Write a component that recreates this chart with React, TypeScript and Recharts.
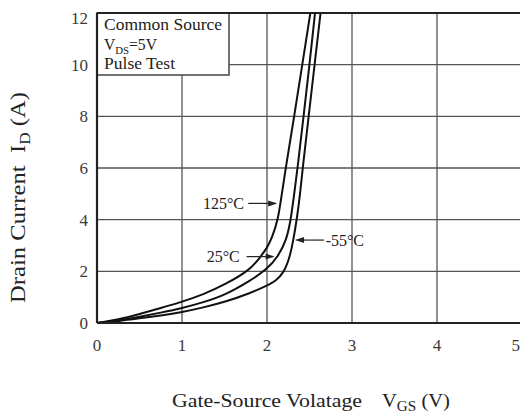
import React from "react";
import {
  LineChart,
  Line,
  XAxis,
  YAxis,
  CartesianGrid,
  ReferenceArea,
  ReferenceLine,
  ReferenceDot,
} from "recharts";

const X_TICKS = [0, 1, 2, 3, 4, 5];
const Y_TICKS = [0, 2, 4, 6, 8, 10, 12];

const VGS_125 = [0, 0.25, 0.5, 0.75, 1, 1.25, 1.5, 1.8, 1.92, 2.0, 2.06, 2.13, 2.17, 2.22, 2.32, 2.415, 2.51];
const ID_125 = [0, 0.13, 0.35, 0.58, 0.82, 1.1, 1.48, 2.05, 2.55, 2.9, 3.3, 4.0, 4.9, 6.0, 8.0, 10, 12];

const VGS_25 = [0, 0.25, 0.5, 0.75, 1, 1.25, 1.5, 1.8, 2.0, 2.13, 2.23, 2.28, 2.32, 2.36, 2.43, 2.5, 2.565];
const ID_25 = [0, 0.09, 0.24, 0.4, 0.57, 0.8, 1.07, 1.63, 2.08, 2.57, 3.21, 4.0, 5.0, 6.0, 8.0, 10, 12];

const VGS_M55 = [0, 0.25, 0.5, 0.75, 1, 1.25, 1.5, 1.8, 2.0, 2.1, 2.2, 2.27, 2.31, 2.35, 2.39, 2.42, 2.49, 2.56, 2.63];
const ID_M55 = [0, 0.07, 0.18, 0.29, 0.42, 0.6, 0.81, 1.15, 1.45, 1.62, 1.95, 2.57, 3.21, 4.0, 5.0, 6.0, 8.0, 10, 12];

const LEGEND_LINES = ["Common Source", "V_DS=5V", "Pulse Test"];

const toData = (xs: number[], ys: number[]) => xs.map((v, k) => ({ v, i: ys[k] }));
const d125 = toData(VGS_125, ID_125);
const d25 = toData(VGS_25, ID_25);
const dM55 = toData(VGS_M55, ID_M55);

const FONT = "'Liberation Serif', 'Times New Roman', serif";
const INK = "#222";

const arrowRight = (p: any) => (
  <polygon
    points={`${p.cx},${p.cy} ${p.cx - 9},${p.cy - 3} ${p.cx - 9},${p.cy + 3}`}
    fill={INK}
  />
);
const arrowLeft = (p: any) => (
  <polygon
    points={`${p.cx},${p.cy} ${p.cx + 9},${p.cy - 3} ${p.cx + 9},${p.cy + 3}`}
    fill={INK}
  />
);

const tempLabel = (txt: string, anchor: "start" | "end") => (p: any) => (
  <text
    x={p.cx}
    y={p.cy}
    dy="0.35em"
    textAnchor={anchor}
    fontFamily={FONT}
    fontSize={16}
    fill={INK}
  >
    {txt}
  </text>
);

const LegendBoxLabel = (props: any) => {
  const vb = props.viewBox || {};
  const x = vb.x + 7;
  const y0 = vb.y + 17;
  return (
    <g fontFamily={FONT} fontSize={16} fill={INK}>
      <text x={x} y={y0} textLength={118} lengthAdjust="spacingAndGlyphs">{LEGEND_LINES[0]}</text>
      <text x={x} y={y0 + 20} textLength={53} lengthAdjust="spacingAndGlyphs">
        V<tspan fontSize={11} dy={4}>DS</tspan>
        <tspan dy={-4}>=5V</tspan>
      </text>
      <text x={x} y={y0 + 39} textLength={71} lengthAdjust="spacingAndGlyphs">{LEGEND_LINES[2]}</text>
    </g>
  );
};

const YLabel = (props: any) => {
  const vb = props.viewBox || { x: 0, y: 5, width: 89, height: 310 };
  const x = vb.x + 17;
  const y = vb.y + vb.height * 0.595;
  return (
    <text
      x={x}
      y={y}
      transform={`rotate(-90, ${x}, ${y})`}
      textAnchor="middle"
      fontFamily={FONT}
      fontSize={20}
      fill={INK}
      textLength={211}
      lengthAdjust="spacingAndGlyphs"
    >
      Drain Current{"\u00a0\u00a0"}I
      <tspan fontSize={14} dy={5}>D</tspan>
      <tspan dy={-5}>{"\u00a0"}(A)</tspan>
    </text>
  );
};

const XLabel = (props: any) => {
  const vb = props.viewBox || { x: 89, y: 315, width: 425, height: 94 };
  const y = vb.y + 84;
  return (
    <g fontFamily={FONT} fill={INK}>
      <text x={vb.x + 75} y={y} fontSize={19} textLength={190} lengthAdjust="spacingAndGlyphs">
        Gate-Source Volatage
      </text>
      <text x={vb.x + 285} y={y} fontSize={19} textLength={68} lengthAdjust="spacingAndGlyphs">
        V<tspan fontSize={14} dy={4}>GS</tspan>
        <tspan dy={-4}>{"\u00a0"}(V)</tspan>
      </text>
    </g>
  );
};

const tickStyle = { fontFamily: FONT, fontSize: 17, fill: "#3a3a3a" };

export default function App() {
  return (
    <div style={{ position: "absolute", left: 8, top: 8, width: 512, height: 409, background: "#fff" }}>
      <LineChart
        width={512}
        height={409}
        margin={{ top: 5, right: -2, left: 0, bottom: 0 }}
      >
        <CartesianGrid stroke="#555" strokeWidth={1.3} />
        <XAxis
          dataKey="v"
          type="number"
          domain={[0, 5]}
          ticks={X_TICKS}
          allowDataOverflow
          height={94}
          tickLine={false}
          tickSize={8}
          tickMargin={8}
          axisLine={{ stroke: INK, strokeWidth: 2.2 }}
          tick={tickStyle}
          label={XLabel}
        />
        <YAxis
          dataKey="i"
          type="number"
          domain={[0, 12]}
          ticks={Y_TICKS}
          allowDataOverflow
          width={89}
          tickLine={false}
          tickSize={6}
          tickMargin={3}
          axisLine={{ stroke: INK, strokeWidth: 2.2 }}
          tick={tickStyle}
          label={YLabel}
        />
        <ReferenceLine y={12} stroke={INK} strokeWidth={2} />
        <ReferenceArea
          x1={0}
          x2={1.553}
          y1={9.6}
          y2={12}
          fill="#fff"
          fillOpacity={1}
          stroke="#444"
          strokeWidth={1.5}
          label={LegendBoxLabel}
        />
        <Line data={d125} dataKey="i" type="basis" stroke="#111" strokeWidth={2} dot={false} isAnimationActive={false} />
        <Line data={d25} dataKey="i" type="basis" stroke="#111" strokeWidth={2} dot={false} isAnimationActive={false} />
        <Line data={dM55} dataKey="i" type="basis" stroke="#111" strokeWidth={2} dot={false} isAnimationActive={false} />

        <ReferenceLine segment={[{ x: 1.78, y: 4.63 }, { x: 2.1, y: 4.63 }]} stroke={INK} strokeWidth={1.2} />
        <ReferenceDot x={2.12} y={4.63} r={0} shape={arrowRight} />
        <ReferenceDot x={1.73} y={4.63} r={0} shape={tempLabel("125°C", "end")} />

        <ReferenceLine segment={[{ x: 1.76, y: 2.57 }, { x: 2.07, y: 2.57 }]} stroke={INK} strokeWidth={1.2} />
        <ReferenceDot x={2.09} y={2.57} r={0} shape={arrowRight} />
        <ReferenceDot x={1.68} y={2.57} r={0} shape={tempLabel("25°C", "end")} />

        <ReferenceLine segment={[{ x: 2.35, y: 3.21 }, { x: 2.67, y: 3.21 }]} stroke={INK} strokeWidth={1.2} />
        <ReferenceDot x={2.33} y={3.21} r={0} shape={arrowLeft} />
        <ReferenceDot x={2.69} y={3.21} r={0} shape={tempLabel("-55°C", "start")} />
      </LineChart>
    </div>
  );
}
